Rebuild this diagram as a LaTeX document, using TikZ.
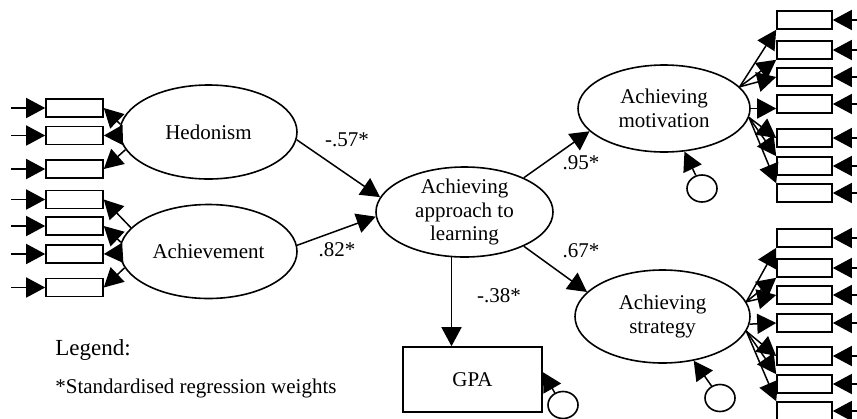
\documentclass[tikz,border=0pt]{standalone}
\usepackage{fontspec}
\setmainfont{Liberation Serif}
\usetikzlibrary{shapes.geometric, arrows.meta, calc}
\newcommand{\semfont}{\fontsize{10.5pt}{11.8pt}\selectfont}

\begin{document}
\begin{tikzpicture}[
  x=0.5pt, y=-0.5pt,
  arr/.style={-{Triangle[length=9.5pt, width=10pt]}, line width=0.75pt},
  latent/.style={draw, ellipse, inner sep=0pt, align=center, font=\semfont, line width=0.8pt},
  obs/.style={draw, rectangle, minimum width=28.5pt, minimum height=9pt, inner sep=0pt, line width=0.8pt},
  err/.style={draw, ellipse, minimum width=15pt, minimum height=13.5pt, inner sep=0pt, line width=0.8pt},
  wt/.style={font=\semfont, inner sep=0pt}
]
\useasboundingbox (0,0) rectangle (857,418);

%% ===== latent variables =====
\node[latent, minimum width=88.5pt, minimum height=47pt] (hed) at (208.5,132) {Hedonism};
\node[latent, minimum width=88.5pt, minimum height=47pt] (ach) at (208.5,251.5) {Achievement};
\node[latent, minimum width=88.5pt, minimum height=45pt, inner ysep=-1pt] (app) at (464.5,212)
  {Achieving\\approach to\\learning};
\node[latent, minimum width=86pt, minimum height=43.5pt] (mot) at (664,108.5) {Achieving\\motivation};
\node[latent, minimum width=87.5pt, minimum height=46.5pt] (str) at (662.5,316.5) {Achieving\\strategy};

%% ===== outcome =====
\node[draw, rectangle, minimum width=69.5pt, minimum height=32.5pt, font=\semfont, line width=0.8pt]
  (gpa) at (472.5,379.5) {GPA};

%% ===== indicators, left =====
\foreach \i/\y in {1/108, 2/135.5, 3/169} {
  \node[obs] (h\i) at (74.5,\y) {};
  \draw[arr] ([xshift=-17pt]h\i.west) -- (h\i.west);
}
\foreach \i/\y in {1/199.5, 2/226, 3/254, 4/287.5} {
  \node[obs] (a\i) at (74.5,\y) {};
  \draw[arr] ([xshift=-17pt]a\i.west) -- (a\i.west);
}
\foreach \i/\a in {1/175, 2/182, 3/192}
  \draw[arr] (hed.\a) -- (h\i.east);
\foreach \i/\a in {1/163, 2/174, 3/181, 4/191}
  \draw[arr] (ach.\a) -- (a\i.east);

%% ===== indicators, right =====
\foreach \i/\y in {1/20, 2/50, 3/77, 4/104, 5/138, 6/166, 7/193} {
  \node[obs, minimum width=27.5pt] (m\i) at (804.5,\y) {};
  \draw[arr] ([xshift=14pt]m\i.east) -- (m\i.east);
}
\foreach \i/\y in {1/238, 2/268, 3/295, 4/323, 5/356, 6/384, 7/411} {
  \node[obs, minimum width=27.5pt] (s\i) at (804.5,\y) {};
  \draw[arr] ([xshift=14pt]s\i.east) -- (s\i.east);
}
\foreach \i/\t in {1/south west, 2/south west, 3/west}
  \draw[arr] (mot.16) -- (m\i.\t);
\draw[arr] (mot.east) -- (mot.east -| m4.west);
\foreach \i/\t in {5/west, 6/north west, 7/north west}
  \draw[arr] (mot.-6) -- (m\i.\t);
\foreach \i/\t in {1/south west, 2/south west, 3/west}
  \draw[arr] (str.10) -- (s\i.\t);
\draw[arr] (str.-5) -- (s4.west);
\foreach \i/\t in {5/west, 6/north west, 7/north west}
  \draw[arr] (str.-10) -- (s\i.\t);

%% ===== structural paths =====
\draw[arr] (hed.-5) -- (app.170);
\draw[arr] (ach.4) -- (app.183);
\draw[arr] (app.30) -- (mot.197);
\draw[arr] (app.-30) -- (str.162);
\draw[arr] (app.254) -- (app.254 |- gpa.north);

%% ===== residuals =====
\node[err] (emot) at (702,188.5) {};
\node[err] (estr) at (720,398) {};
\node[err] (egpa) at (563,405) {};
\draw[arr] (emot) -- (mot);
\draw[arr] (estr) -- (str);
\draw[arr] (egpa.124) -- (gpa.6);

%% ===== weights =====
\node[wt] (w57) at (347,140) {-.57*};
\node[wt] (w82) at (337,250) {.82*};
\node[wt] (w95) at (581,163) {.95*};
\node[wt] (w67) at (581,251) {.67*};
\node[wt] (w38) at (499,296) {-.38*};

%% ===== legend =====
\node[anchor=base west, inner sep=0pt, font=\fontsize{11.5pt}{13pt}\selectfont] (leg) at (55,355) {Legend:};
\node[anchor=base west, inner sep=0pt, font=\semfont] (legw) at (55,393) {*Standardised regression weights};

\end{tikzpicture}
\end{document}
